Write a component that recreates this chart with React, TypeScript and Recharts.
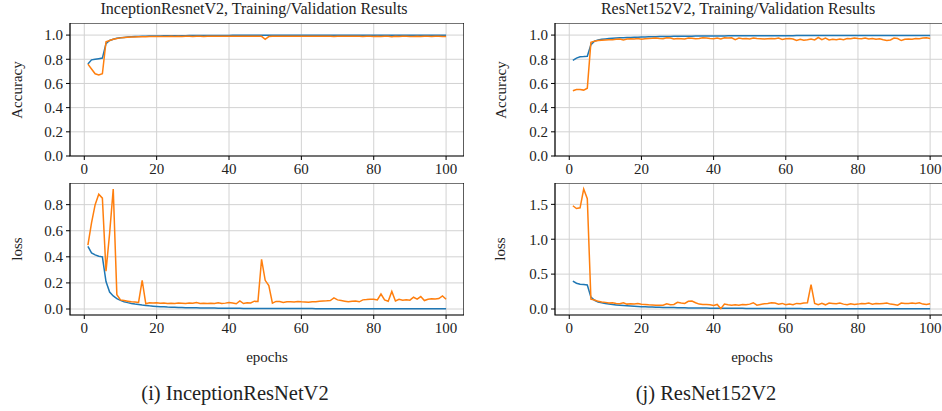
import React from "react";
import {
  LineChart,
  Line,
  XAxis,
  YAxis,
  CartesianGrid,
  ReferenceArea,
} from "recharts";

const FONT = "Liberation Serif";

const epochs = Array.from({ length: 100 }, (_, i) => i + 1);
const xTicks = [0, 20, 40, 60, 80, 100];
const accTicks = [0, 0.2, 0.4, 0.6, 0.8, 1.0];
const irLossTicks = [0, 0.2, 0.4, 0.6, 0.8];
const rnLossTicks = [0, 0.5, 1.0, 1.5];

// InceptionResNetV2
const irTrainAcc = [
  0.760, 0.795, 0.800, 0.805, 0.810, 0.930, 0.955, 0.966, 0.973, 0.978,
  0.981, 0.984, 0.986, 0.988, 0.989, 0.990, 0.991, 0.992, 0.992, 0.993,
  0.993, 0.994, 0.994, 0.994, 0.995, 0.995, 0.995, 0.995, 0.996, 0.996,
  0.996, 0.996, 0.996, 0.997, 0.997, 0.997, 0.997, 0.997, 0.997, 0.997,
  0.998, 0.998, 0.998, 0.998, 0.998, 0.998, 0.998, 0.998, 0.998, 0.998,
  0.998, 0.998, 0.998, 0.998, 0.998, 0.998, 0.999, 0.999, 0.999, 0.999,
  0.999, 0.999, 0.999, 0.999, 0.999, 0.999, 0.999, 0.999, 0.999, 0.999,
  0.999, 0.999, 0.999, 0.999, 0.999, 0.999, 0.999, 0.999, 0.999, 0.999,
  0.999, 0.999, 0.999, 0.999, 0.999, 0.999, 0.999, 0.999, 0.999, 0.999,
  0.999, 0.999, 0.999, 0.999, 0.999, 0.999, 0.999, 0.999, 0.999, 0.999,
];
const irValAcc = [
  0.760, 0.720, 0.680, 0.670, 0.680, 0.945, 0.955, 0.965, 0.972, 0.977,
  0.980, 0.982, 0.984, 0.985, 0.986, 0.987, 0.986, 0.988, 0.988, 0.989,
  0.988, 0.989, 0.989, 0.990, 0.989, 0.990, 0.989, 0.990, 0.990, 0.989,
  0.990, 0.990, 0.989, 0.990, 0.990, 0.991, 0.990, 0.990, 0.991, 0.990,
  0.990, 0.991, 0.990, 0.990, 0.991, 0.990, 0.990, 0.991, 0.990, 0.965,
  0.988, 0.990, 0.990, 0.991, 0.990, 0.990, 0.991, 0.990, 0.990, 0.991,
  0.990, 0.991, 0.990, 0.990, 0.991, 0.990, 0.990, 0.991, 0.989, 0.990,
  0.990, 0.991, 0.990, 0.990, 0.990, 0.991, 0.989, 0.990, 0.990, 0.989,
  0.990, 0.988, 0.990, 0.990, 0.987, 0.990, 0.989, 0.990, 0.990, 0.989,
  0.989, 0.990, 0.988, 0.990, 0.990, 0.989, 0.990, 0.990, 0.988, 0.989,
];
const irTrainLoss = [
  0.480, 0.430, 0.415, 0.405, 0.400, 0.210, 0.130, 0.100, 0.080, 0.066,
  0.056, 0.049, 0.043, 0.038, 0.034, 0.030, 0.027, 0.024, 0.022, 0.020,
  0.018, 0.017, 0.015, 0.014, 0.013, 0.012, 0.011, 0.010, 0.010, 0.009,
  0.009, 0.008, 0.008, 0.007, 0.007, 0.007, 0.006, 0.006, 0.006, 0.005,
  0.005, 0.005, 0.005, 0.004, 0.004, 0.004, 0.004, 0.004, 0.004, 0.004,
  0.004, 0.003, 0.003, 0.003, 0.003, 0.003, 0.003, 0.003, 0.003, 0.003,
  0.003, 0.003, 0.003, 0.002, 0.002, 0.002, 0.002, 0.002, 0.002, 0.002,
  0.002, 0.002, 0.002, 0.002, 0.002, 0.002, 0.002, 0.002, 0.002, 0.002,
  0.002, 0.002, 0.002, 0.002, 0.002, 0.002, 0.002, 0.002, 0.002, 0.002,
  0.002, 0.002, 0.002, 0.002, 0.002, 0.002, 0.002, 0.002, 0.002, 0.002,
];
const irValLoss = [
  0.490, 0.660, 0.800, 0.880, 0.850, 0.290, 0.580, 0.920, 0.110, 0.070,
  0.065, 0.060, 0.055, 0.053, 0.050, 0.220, 0.040, 0.048, 0.046, 0.047,
  0.044, 0.046, 0.042, 0.044, 0.043, 0.046, 0.045, 0.043, 0.046, 0.044,
  0.050, 0.043, 0.044, 0.042, 0.045, 0.043, 0.048, 0.042, 0.045, 0.050,
  0.046, 0.040, 0.062, 0.042, 0.048, 0.046, 0.060, 0.058, 0.380, 0.220,
  0.180, 0.045, 0.058, 0.057, 0.050, 0.055, 0.056, 0.054, 0.057, 0.055,
  0.054, 0.052, 0.056, 0.055, 0.060, 0.062, 0.063, 0.065, 0.085, 0.070,
  0.065, 0.060, 0.055, 0.060, 0.062, 0.055, 0.070, 0.072, 0.075, 0.075,
  0.070, 0.115, 0.070, 0.060, 0.135, 0.062, 0.075, 0.068, 0.070, 0.068,
  0.090, 0.075, 0.095, 0.065, 0.075, 0.078, 0.076, 0.080, 0.100, 0.075,
];

// ResNet152V2
const rnTrainAcc = [
  0.790, 0.810, 0.820, 0.822, 0.825, 0.920, 0.950, 0.960, 0.965, 0.968,
  0.971, 0.973, 0.975, 0.977, 0.978, 0.980, 0.981, 0.982, 0.983, 0.984,
  0.985, 0.986, 0.986, 0.987, 0.988, 0.988, 0.989, 0.989, 0.990, 0.990,
  0.990, 0.991, 0.991, 0.991, 0.992, 0.992, 0.992, 0.992, 0.993, 0.993,
  0.993, 0.993, 0.993, 0.994, 0.994, 0.994, 0.994, 0.994, 0.994, 0.995,
  0.995, 0.995, 0.995, 0.995, 0.995, 0.995, 0.995, 0.995, 0.995, 0.995,
  0.995, 0.995, 0.996, 0.996, 0.996, 0.996, 0.996, 0.996, 0.996, 0.996,
  0.996, 0.996, 0.996, 0.996, 0.996, 0.996, 0.996, 0.996, 0.996, 0.996,
  0.997, 0.997, 0.997, 0.997, 0.997, 0.997, 0.997, 0.997, 0.997, 0.997,
  0.997, 0.997, 0.997, 0.997, 0.997, 0.997, 0.997, 0.997, 0.997, 0.997,
];
const rnValAcc = [
  0.540, 0.550, 0.550, 0.545, 0.560, 0.940, 0.950, 0.955, 0.958, 0.960,
  0.962, 0.962, 0.965, 0.968, 0.960, 0.968, 0.970, 0.968, 0.972, 0.965,
  0.970, 0.972, 0.973, 0.975, 0.972, 0.970, 0.978, 0.975, 0.968, 0.972,
  0.970, 0.968, 0.975, 0.973, 0.970, 0.972, 0.978, 0.975, 0.972, 0.970,
  0.975, 0.968, 0.977, 0.975, 0.978, 0.962, 0.975, 0.970, 0.972, 0.968,
  0.975, 0.972, 0.970, 0.968, 0.970, 0.972, 0.970, 0.975, 0.963, 0.970,
  0.972, 0.968, 0.955, 0.965, 0.958, 0.962, 0.968, 0.960, 0.980, 0.962,
  0.975, 0.960, 0.965, 0.962, 0.968, 0.962, 0.972, 0.970, 0.975, 0.972,
  0.970, 0.975, 0.968, 0.972, 0.965, 0.970, 0.962, 0.955, 0.960, 0.975,
  0.972, 0.955, 0.965, 0.968, 0.965, 0.972, 0.970, 0.975, 0.978, 0.972,
];
const rnTrainLoss = [
  0.400, 0.370, 0.355, 0.350, 0.345, 0.170, 0.125, 0.100, 0.088, 0.078,
  0.070, 0.063, 0.058, 0.053, 0.049, 0.045, 0.042, 0.039, 0.036, 0.034,
  0.032, 0.030, 0.028, 0.026, 0.025, 0.023, 0.022, 0.021, 0.020, 0.019,
  0.018, 0.017, 0.016, 0.015, 0.015, 0.014, 0.013, 0.013, 0.012, 0.012,
  0.011, 0.011, 0.010, 0.010, 0.010, 0.009, 0.009, 0.009, 0.008, 0.008,
  0.008, 0.008, 0.007, 0.007, 0.007, 0.007, 0.007, 0.006, 0.006, 0.006,
  0.006, 0.006, 0.006, 0.006, 0.005, 0.005, 0.005, 0.005, 0.005, 0.005,
  0.005, 0.005, 0.005, 0.005, 0.005, 0.005, 0.005, 0.004, 0.004, 0.004,
  0.004, 0.004, 0.004, 0.004, 0.004, 0.004, 0.004, 0.004, 0.004, 0.004,
  0.004, 0.004, 0.004, 0.004, 0.004, 0.004, 0.004, 0.004, 0.004, 0.004,
];
const rnValLoss = [
  1.480, 1.440, 1.450, 1.720, 1.580, 0.140, 0.130, 0.110, 0.100, 0.095,
  0.085, 0.090, 0.080, 0.075, 0.090, 0.070, 0.075, 0.072, 0.080, 0.068,
  0.065, 0.060, 0.058, 0.055, 0.055, 0.055, 0.075, 0.060, 0.065, 0.095,
  0.085, 0.080, 0.110, 0.115, 0.090, 0.070, 0.065, 0.065, 0.060, 0.050,
  0.065, 0.005, 0.070, 0.060, 0.055, 0.060, 0.055, 0.065, 0.060, 0.070,
  0.090, 0.055, 0.065, 0.075, 0.080, 0.090, 0.085, 0.070, 0.080, 0.060,
  0.070, 0.060, 0.080, 0.075, 0.085, 0.090, 0.350, 0.080, 0.060, 0.080,
  0.060, 0.085, 0.080, 0.075, 0.085, 0.070, 0.060, 0.075, 0.065, 0.070,
  0.080, 0.075, 0.085, 0.070, 0.080, 0.075, 0.080, 0.085, 0.070, 0.065,
  0.055, 0.085, 0.080, 0.080, 0.085, 0.080, 0.090, 0.070, 0.065, 0.075,
];

const irData = epochs.map((e, i) => ({
  epoch: e,
  acc: irTrainAcc[i],
  valAcc: irValAcc[i],
  loss: irTrainLoss[i],
  valLoss: irValLoss[i],
}));
const rnData = epochs.map((e, i) => ({
  epoch: e,
  acc: rnTrainAcc[i],
  valAcc: rnValAcc[i],
  loss: rnTrainLoss[i],
  valLoss: rnValLoss[i],
}));

const X_DOMAIN: [number, number] = [-3.95, 104.95];
const Y_W = 50;
const X_H = 30;
const BLUE = "#1f77b4";
const ORANGE = "#ff7f0e";
const tickStyle = { fill: "#222", fontSize: 15, fontFamily: FONT };

interface PanelProps {
  data: any[];
  trainKey: string;
  valKey: string;
  left: number;
  top: number;
  width: number;
  height: number;
  yDomain: [number, number];
  yTicks: number[];
}

const Panel: React.FC<PanelProps> = ({
  data,
  trainKey,
  valKey,
  left,
  top,
  width,
  height,
  yDomain,
  yTicks,
}) => (
  <div style={{ position: "absolute", left: left - Y_W, top }}>
    <LineChart
      width={width + Y_W}
      height={height + X_H}
      data={data}
      margin={{ top: 0, right: 0, bottom: 0, left: 0 }}
    >
      <CartesianGrid stroke="#d2d2d2" strokeWidth={1} />
      <XAxis
        dataKey="epoch"
        type="number"
        domain={X_DOMAIN}
        ticks={xTicks}
        allowDataOverflow
        axisLine={false}
        tickLine={{ stroke: "#000" }}
        tickSize={4}
        tickMargin={3}
        tick={tickStyle}
        height={X_H}
      />
      <YAxis
        type="number"
        domain={yDomain}
        ticks={yTicks}
        allowDataOverflow
        axisLine={false}
        tickLine={{ stroke: "#000" }}
        tickSize={4}
        tickMargin={3}
        tick={tickStyle}
        width={Y_W}
        tickFormatter={(v: number) => v.toFixed(1)}
      />
      <Line
        type="linear"
        dataKey={trainKey}
        stroke={BLUE}
        strokeWidth={1.5}
        dot={false}
        isAnimationActive={false}
      />
      <Line
        type="linear"
        dataKey={valKey}
        stroke={ORANGE}
        strokeWidth={1.5}
        dot={false}
        isAnimationActive={false}
      />
      <ReferenceArea
        x1={X_DOMAIN[0]}
        x2={X_DOMAIN[1]}
        y1={yDomain[0]}
        y2={yDomain[1]}
        fill="none"
        fillOpacity={0}
        stroke="#000"
        strokeWidth={1.2}
        ifOverflow="visible"
      />
    </LineChart>
  </div>
);

const Text: React.FC<{
  x: number;
  y: number;
  size: number;
  rotate?: boolean;
  children: React.ReactNode;
}> = ({ x, y, size, rotate, children }) => (
  <div
    style={{
      position: "absolute",
      left: x,
      top: y,
      transform: `translate(-50%, -50%)${rotate ? " rotate(-90deg)" : ""}`,
      fontSize: size,
      fontFamily: FONT,
      color: "#222",
      whiteSpace: "nowrap",
      lineHeight: 1,
    }}
  >
    {children}
  </div>
);

const App: React.FC = () => {
  return (
    <div
      style={{
        position: "absolute",
        left: 0,
        top: 0,
        width: 942,
        height: 411,
        overflow: "hidden",
        background: "#fff",
        fontFamily: FONT,
      }}
    >
      <Text x={254} y={9} size={16}>
        InceptionResnetV2, Training/Validation Results
      </Text>
      <Text x={738} y={9} size={16}>
        ResNet152V2, Training/Validation Results
      </Text>

      <Panel
        data={irData}
        trainKey="acc"
        valKey="valAcc"
        left={70}
        top={23}
        width={394}
        height={133}
        yDomain={[0, 1.1]}
        yTicks={accTicks}
      />
      <Panel
        data={irData}
        trainKey="loss"
        valKey="valLoss"
        left={70}
        top={183}
        width={394}
        height={132}
        yDomain={[-0.046, 0.966]}
        yTicks={irLossTicks}
      />
      <Panel
        data={rnData}
        trainKey="acc"
        valKey="valAcc"
        left={555}
        top={23}
        width={393}
        height={133}
        yDomain={[0, 1.1]}
        yTicks={accTicks}
      />
      <Panel
        data={rnData}
        trainKey="loss"
        valKey="valLoss"
        left={555}
        top={183}
        width={393}
        height={132}
        yDomain={[-0.086, 1.806]}
        yTicks={rnLossTicks}
      />

      <Text x={17} y={90} size={15} rotate>
        Accuracy
      </Text>
      <Text x={17} y={249} size={15} rotate>
        loss
      </Text>
      <Text x={501} y={90} size={15} rotate>
        Accuracy
      </Text>
      <Text x={500} y={249} size={15} rotate>
        loss
      </Text>

      <Text x={267} y={357} size={15}>
        epochs
      </Text>
      <Text x={752} y={357} size={15}>
        epochs
      </Text>

      <Text x={235} y={393} size={20.5}>
        (i) InceptionResNetV2
      </Text>
      <Text x={706} y={393} size={20.5}>
        (j) ResNet152V2
      </Text>
    </div>
  );
};

export default App;
